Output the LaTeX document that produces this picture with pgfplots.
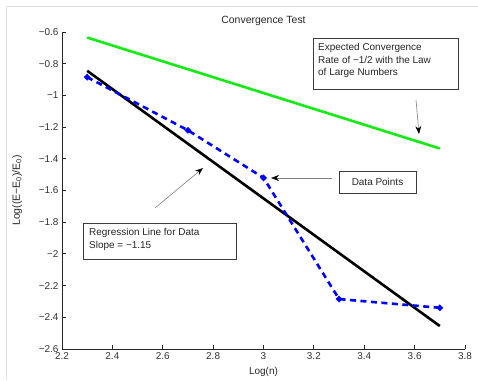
\documentclass[border=0pt]{standalone}
\usepackage{fontspec}
\setmainfont{Liberation Sans}
\usepackage{pgfplots}
\pgfplotsset{compat=1.18}
\usetikzlibrary{arrows.meta}
\definecolor{mgreen}{RGB}{20,235,20}
\definecolor{mblue}{RGB}{0,0,255}
\definecolor{frame}{RGB}{225,225,225}
\definecolor{boxc}{RGB}{60,60,60}
\begin{document}
\begin{tikzpicture}[x=1bp,y=1bp]
\useasboundingbox (0,0) rectangle (478,380);
\draw[frame, line width=0.8bp] (6,0) -- (6,374) -- (478,374);
\begin{axis}[
  at={(62bp,31bp)}, anchor=south west,
  width=403bp, height=317bp, scale only axis,
  xmin=2.2, xmax=3.8, ymin=-2.6, ymax=-0.6,
  axis x line=bottom, axis y line=left,
  axis line style={-, line width=0.9bp, black!85},
  tick align=inside, major tick length=4bp,
  tick style={line width=0.9bp, black!85},
  xtick={2.2,2.4,2.6,2.8,3.0,3.2,3.4,3.6,3.8},
  xticklabels={2.2,2.4,2.6,2.8,3,3.2,3.4,3.6,3.8},
  ytick={-2.6,-2.4,-2.2,-2,-1.8,-1.6,-1.4,-1.2,-1,-0.8,-0.6},
  yticklabels={−2.6,−2.4,−2.2,−2,−1.8,−1.6,−1.4,−1.2,−1,−0.8,−0.6},
  ticklabel style={font=\fontsize{10}{12}\selectfont, text=black!80},
  label style={font=\fontsize{10}{12}\selectfont, text=black!85},
  xlabel={Log(n)},
  ylabel={Log((E−E\textsubscript{0})/E\textsubscript{0})},
  ylabel style={yshift=10bp, font=\fontsize{10.5}{12}\selectfont},
  xlabel style={yshift=-1bp},
  title={Convergence Test},
  title style={font=\fontsize{10.5}{12}\selectfont, text=black!85, yshift=-3bp},
  clip=false,
]
\addplot[mgreen, line width=2.6bp] coordinates {(2.3,-0.635) (3.7,-1.335)};
\addplot[black, line width=2.6bp] coordinates {(2.3,-0.845) (3.7,-2.455)};
\addplot[mblue, line width=2.6bp, dash pattern=on 6bp off 4.5bp,
  mark=*, mark size=1.6bp, mark options={solid, fill=mblue, draw=mblue}]
  coordinates {(2.3,-0.885) (2.7,-1.22) (3.0,-1.52) (3.3,-2.285) (3.7,-2.34)};
\end{axis}
% annotations
\draw[boxc, line width=0.9bp, fill=white] (313,291) rectangle (458,342);
\node[anchor=north west, inner sep=0, align=left, font=\fontsize{10}{12.8}\selectfont, text=black!85]
  at (318,337) {Expected Convergence\\Rate of −1/2 with the Law\\of Large Numbers};
\draw[gray, line width=0.6bp, -{Stealth[black,length=8bp,width=6bp]}] (416,280) -- (419,246);
\draw[boxc, line width=0.9bp, fill=white] (339,187) rectangle (416,209);
\node[inner sep=0, font=\fontsize{10}{12}\selectfont, text=black!85] at (377.5,198) {Data Points};
\draw[gray, line width=0.6bp, -{Stealth[black,length=8bp,width=6bp]}] (332,202) -- (271,202);
\draw[boxc, line width=0.9bp, fill=white] (83,121) rectangle (236,157);
\node[anchor=north west, inner sep=0, align=left, font=\fontsize{10}{12.8}\selectfont, text=black!85]
  at (89,152) {Regression Line for Data\\Slope = −1.15};
\draw[gray, line width=0.6bp, -{Stealth[black,length=8bp,width=6bp]}] (155,172) -- (203,212);
\end{tikzpicture}
\end{document}
